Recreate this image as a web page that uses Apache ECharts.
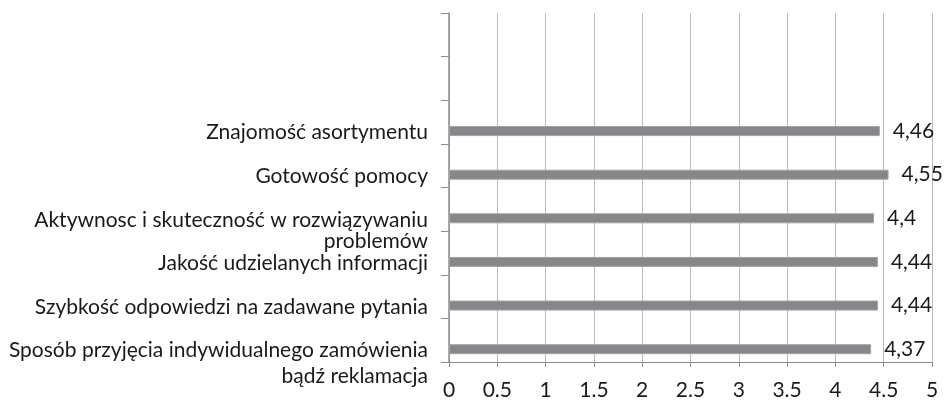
<!DOCTYPE html>
<html>
<head>
<meta charset="utf-8">
<script src="https://cdn.jsdelivr.net/npm/echarts@6/dist/echarts.min.js"></script>
<style>
  html, body { margin: 0; padding: 0; background: #fff; }
  #chart { width: 948px; height: 401px; }
</style>
</head>
<body>
<div id="chart"></div>
<script>
// kategorie od dołu do góry, dwie puste na górze
const categories = [
  'Sposób przyjęcia indywidualnego zamówienia\nbądź reklamacja',
  'Szybkość odpowiedzi na zadawane pytania',
  'Jakość udzielanych informacji',
  'Aktywnosc i skuteczność w rozwiązywaniu\nproblemów',
  'Gotowość pomocy',
  'Znajomość asortymentu',
  '',
  ''
]
const values = [4.37, 4.44, 4.44, 4.4, 4.55, 4.46, null, null]
const xTicks = ['0', '0.5', '1', '1.5', '2', '2.5', '3', '3.5', '4', '4.5', '5']

const font = "Lato, sans-serif"
const fs = 21

const chart = echarts.init(document.getElementById('chart'))
chart.setOption({
  animation: false,
  grid: { left: 449, right: 16, top: 13, bottom: 36 },
  xAxis: {
    type: 'value',
    min: 0,
    max: 5,
    interval: 0.5,
    axisLine: { show: true, lineStyle: { color: '#8c8c8c', width: 1 } },
    axisTick: { show: true, length: 5, lineStyle: { color: '#8c8c8c' } },
    splitLine: { show: true, lineStyle: { color: '#bcbcbc', width: 1 } },
    axisLabel: {
      color: '#1a1a1a',
      fontFamily: font,
      fontSize: fs,
      margin: 18,
      formatter: (v) => xTicks[Math.round(v * 2)]
    }
  },
  yAxis: {
    type: 'category',
    data: categories,
    axisLine: { show: true, lineStyle: { color: '#8c8c8c', width: 1.5 } },
    axisTick: { show: true, length: 8, lineStyle: { color: '#8c8c8c' } },
    axisLabel: {
      color: '#1a1a1a',
      fontFamily: font,
      fontSize: fs,
      margin: 21,
      align: 'right',
      verticalAlign: 'top',
      // druga linia dolnej etykiety jest bardziej odsunięta
      formatter: (v, i) => {
        const lines = v.split('\n')
        if (i === 0 && lines.length > 1) {
          return '{a|' + lines[0] + '}\n{b|' + lines[1] + '}'
        }
        return lines.map(l => '{a|' + l + '}').join('\n')
      },
      rich: {
        a: { fontFamily: font, fontSize: fs, color: '#1a1a1a', lineHeight: 21, align: 'right' },
        b: { fontFamily: font, fontSize: fs, color: '#1a1a1a', lineHeight: 26, align: 'right', verticalAlign: 'bottom' }
      }
    }
  },
  series: [
    {
      // pusta seria tylko po to, żeby przesunąć słupki w dół jak w oryginale
      type: 'bar',
      data: categories.map(() => null),
      barWidth: 10,
      barGap: '80%',
      silent: true
    },
    {
      type: 'bar',
      data: values,
      barWidth: 10,
      barGap: '80%',
      itemStyle: { color: '#87878a', borderColor: '#a2a2a5', borderWidth: 1 },
      label: {
        show: true,
        position: 'right',
        distance: 13,
        color: '#1a1a1a',
        fontFamily: font,
        fontSize: fs,
        formatter: (p) => String(p.value).replace('.', ',')
      }
    }
  ]
})
</script>
</body>
</html>
